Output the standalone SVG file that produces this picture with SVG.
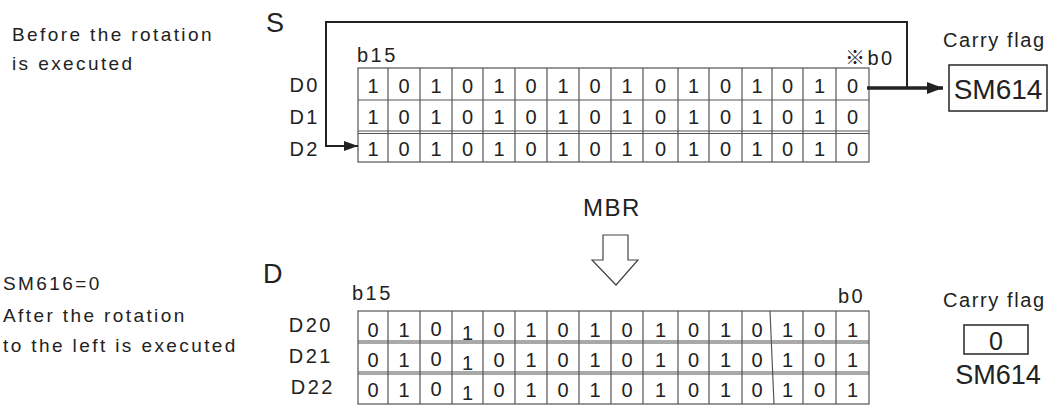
<svg xmlns="http://www.w3.org/2000/svg" width="1054" height="407" viewBox="0 0 1054 407">
<style>
  text { font-family: "Liberation Sans", Arial, "Noto Sans CJK JP", sans-serif; fill: #222; }
  .note { font-size: 19px; letter-spacing: 2.4px; }
  .big { font-size: 27px; }
  .lbl { font-size: 20px; letter-spacing: 2.5px; }
  .bit { font-size: 20px; text-anchor: middle; }
  .cell { fill: none; stroke: #555; stroke-width: 1.2; }
  .line { fill: none; stroke: #222; stroke-width: 2; }
  .thick { fill: none; stroke: #222; stroke-width: 3.5; }
  .box { fill: none; stroke: #333; stroke-width: 1.6; }
</style>
<defs>
  <marker id="ah" viewBox="0 0 14 10" refX="14" refY="5" markerWidth="14" markerHeight="10" markerUnits="userSpaceOnUse" orient="auto">
    <path d="M0,0 L14,5 L0,10 Z" fill="#222"/>
  </marker>
  <marker id="ah2" viewBox="0 0 16 12" refX="16" refY="6" markerWidth="16" markerHeight="12" markerUnits="userSpaceOnUse" orient="auto">
    <path d="M0,0 L16,6 L0,12 Z" fill="#222"/>
  </marker>
</defs>

<g id="note-before">
  <text class="note" x="12" y="41">Before the rotation</text>
  <text class="note" x="12" y="70">is executed</text>
</g>
<g id="note-after">
  <text class="note" x="3" y="290">SM616=0</text>
  <text class="note" x="3" y="322">After the rotation</text>
  <text class="note" x="3" y="352">to the left is executed</text>
</g>

<g id="source">
  <text class="big" x="266" y="32">S</text>
  <text class="lbl" x="357" y="62">b15</text>
  <text class="lbl" x="845" y="65">※b0</text>
  <text class="lbl" x="320" y="92" text-anchor="end">D0</text>
  <text class="lbl" x="320" y="124" text-anchor="end">D1</text>
  <text class="lbl" x="320" y="156" text-anchor="end">D2</text>
  <g id="source-grid">
    <rect class="cell" x="358" y="68" width="511" height="94"/>
    <path class="cell" d="M358,100 H869 M358,131 H869 M358,133.5 H869 M388,68 V162 M420,68 V162 M452,68 V162 M483,68 V162 M515,68 V162 M547,68 V162 M579,68 V162 M611,68 V162 M643,68 V162 M678,68 V162 M709,68 V162 M742,68 V162 M772,68 V162 M803,68 V162 M836,68 V162"/>
    <g id="row-d0">
      <text class="bit" x="373" y="93">1</text><text class="bit" x="404" y="93">0</text><text class="bit" x="436" y="93">1</text><text class="bit" x="467.5" y="93">0</text><text class="bit" x="499" y="93">1</text><text class="bit" x="531" y="93">0</text><text class="bit" x="563" y="93">1</text><text class="bit" x="595" y="93">0</text><text class="bit" x="627" y="93">1</text><text class="bit" x="660.5" y="93">0</text><text class="bit" x="693.5" y="93">1</text><text class="bit" x="725.5" y="93">0</text><text class="bit" x="757" y="93">1</text><text class="bit" x="787.5" y="93">0</text><text class="bit" x="819.5" y="93">1</text><text class="bit" x="852.5" y="93">0</text>
    </g>
    <g id="row-d1">
      <text class="bit" x="373" y="124">1</text><text class="bit" x="404" y="124">0</text><text class="bit" x="436" y="124">1</text><text class="bit" x="467.5" y="124">0</text><text class="bit" x="499" y="124">1</text><text class="bit" x="531" y="124">0</text><text class="bit" x="563" y="124">1</text><text class="bit" x="595" y="124">0</text><text class="bit" x="627" y="124">1</text><text class="bit" x="660.5" y="124">0</text><text class="bit" x="693.5" y="124">1</text><text class="bit" x="725.5" y="124">0</text><text class="bit" x="757" y="124">1</text><text class="bit" x="787.5" y="124">0</text><text class="bit" x="819.5" y="124">1</text><text class="bit" x="852.5" y="124">0</text>
    </g>
    <g id="row-d2">
      <text class="bit" x="373" y="156">1</text><text class="bit" x="404" y="156">0</text><text class="bit" x="436" y="156">1</text><text class="bit" x="467.5" y="156">0</text><text class="bit" x="499" y="156">1</text><text class="bit" x="531" y="156">0</text><text class="bit" x="563" y="156">1</text><text class="bit" x="595" y="156">0</text><text class="bit" x="627" y="156">1</text><text class="bit" x="660.5" y="156">0</text><text class="bit" x="693.5" y="156">1</text><text class="bit" x="725.5" y="156">0</text><text class="bit" x="757" y="156">1</text><text class="bit" x="787.5" y="156">0</text><text class="bit" x="819.5" y="156">1</text><text class="bit" x="852.5" y="156">0</text>
    </g>
  </g>
</g>

<g id="carry-before">
  <text class="lbl" x="943" y="47" style="letter-spacing:1.6px">Carry flag</text>
  <rect class="box" x="949" y="65" width="98" height="46"/>
  <text x="998" y="99" text-anchor="middle" style="font-size:28px">SM614</text>
</g>

<g id="mbr">
  <text x="583" y="216" style="font-size:24px;letter-spacing:1.5px">MBR</text>
</g>

<g id="dest">
  <text class="big" x="263" y="283">D</text>
  <text class="lbl" x="352" y="300">b15</text>
  <text class="lbl" x="838" y="303">b0</text>
  <text class="lbl" x="333" y="332" text-anchor="end">D20</text>
  <text class="lbl" x="333" y="363" text-anchor="end">D21</text>
  <text class="lbl" x="335" y="394" text-anchor="end">D22</text>
  <g id="dest-grid">
    <rect class="cell" x="358" y="311" width="511" height="93"/>
    <path class="cell" d="M358,341 H869 M358,343 H869 M358,372 H869 M358,374 H869 M388,311 V404 M420,311 V404 M452,311 V404 M483,311 V404 M515,311 V404 M547,311 V404 M579,311 V404 M611,311 V404 M643,311 V404 M678,311 V404 M709,311 V404 M742,311 V404 M770,311 L774,404 M803,311 V404 M836,311 V404"/>
    <g id="row-d20">
      <text class="bit" x="373" y="337">0</text><text class="bit" x="404" y="337">1</text><text class="bit" x="436" y="336">0</text><text class="bit" x="467.5" y="340">1</text><text class="bit" x="499" y="337">0</text><text class="bit" x="531" y="337">1</text><text class="bit" x="563" y="337">0</text><text class="bit" x="595" y="337">1</text><text class="bit" x="627" y="337">0</text><text class="bit" x="660.5" y="337">1</text><text class="bit" x="693.5" y="337">0</text><text class="bit" x="725.5" y="337">1</text><text class="bit" x="757" y="337">0</text><text class="bit" x="787.5" y="337">1</text><text class="bit" x="819.5" y="337">0</text><text class="bit" x="852.5" y="337">1</text>
    </g>
    <g id="row-d21">
      <text class="bit" x="373" y="367">0</text><text class="bit" x="404" y="367">1</text><text class="bit" x="436" y="366">0</text><text class="bit" x="467.5" y="370">1</text><text class="bit" x="499" y="367">0</text><text class="bit" x="531" y="367">1</text><text class="bit" x="563" y="367">0</text><text class="bit" x="595" y="367">1</text><text class="bit" x="627" y="367">0</text><text class="bit" x="660.5" y="367">1</text><text class="bit" x="693.5" y="367">0</text><text class="bit" x="725.5" y="367">1</text><text class="bit" x="757" y="367">0</text><text class="bit" x="787.5" y="367">1</text><text class="bit" x="819.5" y="367">0</text><text class="bit" x="852.5" y="367">1</text>
    </g>
    <g id="row-d22">
      <text class="bit" x="373" y="397">0</text><text class="bit" x="404" y="397">1</text><text class="bit" x="436" y="396">0</text><text class="bit" x="467.5" y="400">1</text><text class="bit" x="499" y="397">0</text><text class="bit" x="531" y="397">1</text><text class="bit" x="563" y="397">0</text><text class="bit" x="595" y="397">1</text><text class="bit" x="627" y="397">0</text><text class="bit" x="660.5" y="397">1</text><text class="bit" x="693.5" y="397">0</text><text class="bit" x="725.5" y="397">1</text><text class="bit" x="757" y="397">0</text><text class="bit" x="787.5" y="397">1</text><text class="bit" x="819.5" y="397">0</text><text class="bit" x="852.5" y="397">1</text>
    </g>
  </g>
</g>

<g id="carry-after">
  <text class="lbl" x="943" y="307" style="letter-spacing:1.6px">Carry flag</text>
  <rect class="box" x="964" y="325" width="64" height="29"/>
  <text x="996" y="350" text-anchor="middle" style="font-size:25px">0</text>
  <text x="998" y="384" text-anchor="middle" style="font-size:27px">SM614</text>
</g>

<g id="connectors">
  <path class="line" d="M907,88 V22 H326 V146 H358" marker-end="url(#ah)"/>
  <path class="thick" d="M867,88 H943" marker-end="url(#ah2)"/>
  <path d="M603,235 H628 V260 H638 L616,285 L592,260 H603 Z" fill="#fff" stroke="#444" stroke-width="1.2"/>
</g>
</svg>
